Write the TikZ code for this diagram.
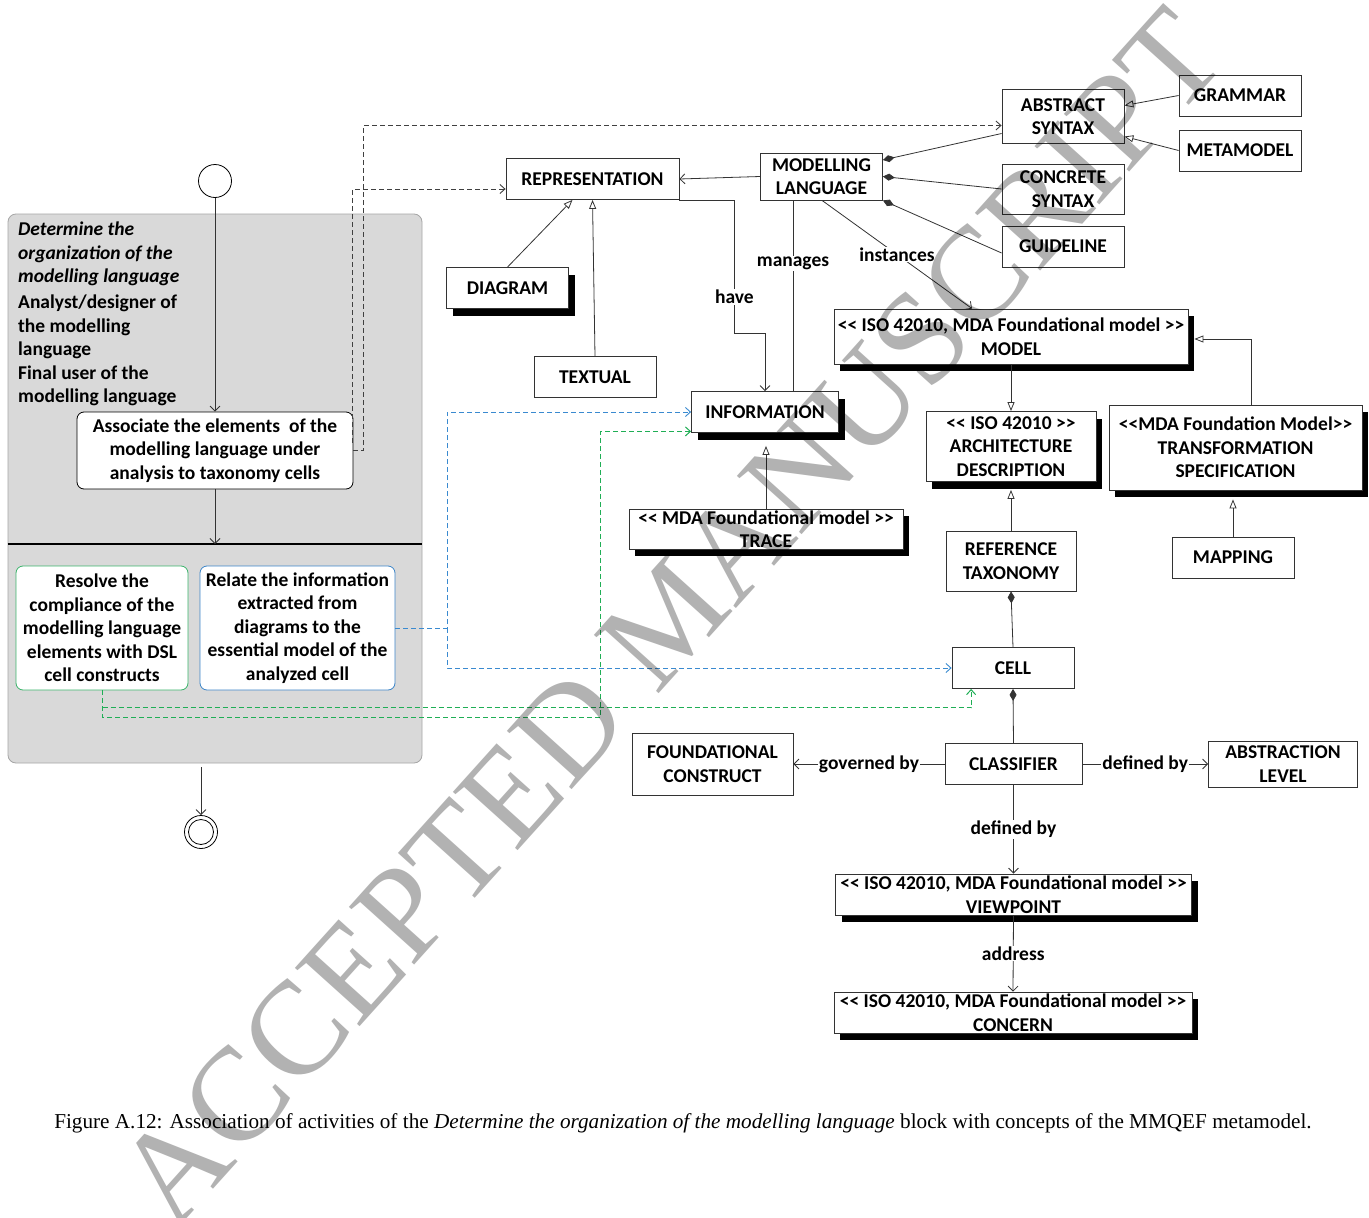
\documentclass[tikz,border=0pt]{standalone}
\usepackage{fontspec}
\setmainfont{Carlito}
\newfontfamily\capfont{Liberation Serif}
\usetikzlibrary{arrows.meta,calc,shadows}

\definecolor{lanegray}{HTML}{D9D9D9}
\definecolor{laneedge}{HTML}{A6A6A6}
\definecolor{actgreen}{HTML}{3BB36B}
\definecolor{actblue}{HTML}{3C85C8}
\definecolor{depgreen}{HTML}{1FAE55}
\definecolor{depblue}{HTML}{3A8AD0}
\newcommand\stl{<\kern0pt<}
\newcommand\str{>\kern0pt>}

\begin{document}
\begin{tikzpicture}[x=1pt,y=-1pt,
  every node/.style={font=\fontsize{19.5}{23.5}\selectfont\bfseries},
  cls/.style={draw=black!80, fill=white, line width=0.8pt, align=center, inner sep=0pt},
  shd/.style={cls, drop shadow={shadow xshift=6pt, shadow yshift=-7pt, fill=black, opacity=1}},
  act/.style={draw=black, fill=white, rounded corners=7pt, line width=0.8pt, align=center, inner sep=0pt},
  lbl/.style={fill=white, inner sep=1pt},
  conn/.style={draw=black!80, line width=0.8pt},
  navi/.style={conn, -{Straight Barb[length=5pt,width=10pt]}},
  gen/.style={conn, -{Triangle[open,length=9pt,width=7pt]}},
  comp/.style={conn, {Diamond[length=12pt,width=7pt]}-},
  dep/.style={draw=black!75, line width=0.9pt, dash pattern=on 5pt off 3pt, -{Straight Barb[length=5pt,width=9pt]}},
  bluedep/.style={dep, draw=depblue},
  greendep/.style={dep, draw=depgreen, line width=1pt},
]
\useasboundingbox[fill=white] (0,0) rectangle (1369,1218);

% ---------- activity lane ----------
\node[draw=laneedge, fill=lanegray, rounded corners=8pt, line width=0.8pt,
      minimum width=414pt, minimum height=549pt, inner sep=0pt] (lane) at (215,488.5) {};
\draw[line width=1.2pt] (lane.west |- 0,544) -- (lane.east |- 0,544);
\node[anchor=north west, align=left, inner sep=0pt] (lanetitle) at (18,222)
  {\textit{Determine the}\\\textit{organization of the}\\\textit{modelling language}\\[2.5pt]
   Analyst/designer of\\the modelling\\language\\Final user of the\\modelling language};

\node[circle, draw, fill=white, line width=0.8pt, minimum size=33pt, inner sep=0pt] (start) at (215,181) {};
\node[act, minimum width=276pt, minimum height=77pt] (assoc) at (215,450.5)
  {Associate the elements\ \ of the\\modelling language under\\analysis to taxonomy cells};
\node[act, draw=actgreen, minimum width=172pt, minimum height=124pt] (resolve) at (102,628)
  {Resolve the\\compliance of the\\modelling language\\elements with DSL\\cell constructs};
\node[act, draw=actblue, minimum width=195pt, minimum height=124pt] (relate) at (297.5,628)
  {Relate the information\\extracted from\\diagrams to the\\essential model of the\\analyzed cell};
\node[circle, draw, fill=white, line width=0.8pt, minimum size=33pt, inner sep=0pt] (final) at (201,832) {};
\draw[line width=0.8pt] (final.center) circle (12.5pt);

\coordinate (divpt) at (215,544);
\coordinate (lanebot) at (201,767);
\draw[navi] (start) -- (assoc);
\draw[navi] (assoc) -- (divpt);
\draw[navi] (lanebot) -- (final);

% ---------- metamodel classes ----------
\node[cls, minimum width=173pt, minimum height=41pt] (rep) at (592.5,179) {REPRESENTATION};
\node[cls, minimum width=122pt, minimum height=47pt] (ml) at (821.5,176.5) {MODELLING\\LANGUAGE};
\node[cls, minimum width=122pt, minimum height=54pt] (abs) at (1063,116.5) {ABSTRACT\\SYNTAX};
\node[cls, minimum width=122pt, minimum height=41pt] (gram) at (1240,95.5) {GRAMMAR};
\node[cls, minimum width=122pt, minimum height=41pt] (meta) at (1240,150.5) {METAMODEL};
\node[cls, minimum width=122pt, minimum height=50pt] (conc) at (1063,189) {CONCRETE\\SYNTAX};
\node[cls, minimum width=122pt, minimum height=41pt] (guide) at (1063,246.5) {GUIDELINE};
\node[shd, minimum width=122pt, minimum height=41pt] (diag) at (507.5,288) {DIAGRAM};
\node[cls, minimum width=122pt, minimum height=41pt] (textual) at (595,377) {TEXTUAL};
\node[shd, minimum width=147pt, minimum height=41pt] (info) at (765,412) {INFORMATION};
\node[shd, minimum width=274pt, minimum height=40pt] (trace) at (766,529) {\stl{} MDA Foundational model \str\\TRACE};
\node[shd, minimum width=354pt, minimum height=55pt] (model) at (1011,336.5) {\stl{} ISO 42010, MDA Foundational model \str\\MODEL};
\node[shd, minimum width=170pt, minimum height=70pt] (arch) at (1011,446.5) {\stl{} ISO 42010 \str\\ARCHITECTURE\\DESCRIPTION};
\node[shd, minimum width=253pt, minimum height=85pt] (trans) at (1235.5,447.5) {\stl MDA Foundation Model\str\\TRANSFORMATION\\SPECIFICATION};
\node[cls, minimum width=130pt, minimum height=60pt] (reft) at (1011,561) {REFERENCE\\TAXONOMY};
\node[cls, minimum width=122pt, minimum height=41pt] (mapping) at (1233,557.5) {MAPPING};
\node[cls, minimum width=122pt, minimum height=41pt] (cell) at (1013,668) {CELL};
\node[cls, minimum width=137pt, minimum height=41pt] (classifier) at (1013.5,764) {CLASSIFIER};
\node[cls, minimum width=161pt, minimum height=62pt] (found) at (712.5,764) {FOUNDATIONAL\\CONSTRUCT};
\node[cls, minimum width=149pt, minimum height=46pt] (absl) at (1283,764) {ABSTRACTION\\LEVEL};
\node[shd, minimum width=356pt, minimum height=41pt] (view) at (1013.5,894.5) {\stl{} ISO 42010, MDA Foundational model \str\\VIEWPOINT};
\node[shd, minimum width=358pt, minimum height=41pt] (concern) at (1013,1012.5) {\stl{} ISO 42010, MDA Foundational model \str\\CONCERN};

% ---------- class relations ----------
\draw[navi] (ml.west) -- (rep.east);
\draw[gen] (diag.north) -- ($(rep.south)+(-20,0)$);
\draw[gen] (textual.north) -- (rep.south);
\draw[navi] (rep.south east) -- ++(55,0) -- node[lbl,pos=0.73]{have} ++(0,133) -| (info.north);
\draw[conn] ($(ml.south)+(-28.5,0)$) -- node[lbl,pos=0.33]{manages} ($(info.north)+(28,0)$);
\draw[navi] ($(ml.south)+(0.5,0)$) -- node[lbl,pos=0.5]{instances} ($(model.north)+(-39,0)$);
\draw[comp] ($(ml.east)+(0,-16.5)$) -- ($(abs.west)+(0,17)$);
\draw[comp] (ml.east) -- (conc.west);
\draw[comp] (ml.south east) -- ($(guide.west)+(0,6.5)$);
\draw[gen] (gram.west) -- ($(abs.east)+(0,-11)$);
\draw[gen] (meta.west) -- ($(abs.east)+(0,20)$);
\draw[gen] (model.south) -- (arch.north);
\draw[gen] ($(trans.north)+(15.5,0)$) |- ($(model.east)+(6,2.5)$);
\draw[gen] (reft.north) -- ($(arch.south)+(0,8)$);
\draw[gen] (mapping.north) -- ($(trans.south)+(-2.5,9)$);
\draw[gen] (trace.north) -- ($(info.south)+(1,13)$);
\draw[comp] (reft.south) -- (cell.north);
\draw[comp] (cell.south) -- (classifier.north);
\draw[navi] (classifier.west) -- node[lbl]{governed by} (found.east);
\draw[navi] (classifier.east) -- node[lbl]{defined by} (absl.west);
\draw[navi] (classifier.south) -- node[lbl]{defined by} (view.north);
\draw[navi] (view.south) -- node[lbl]{address} (concern.north);

% ---------- traces from activities to concepts ----------
\draw[dep] (assoc.east) -- ++(10,0) |- ($(abs.west)+(0,9)$);
\draw[dep] ($(assoc.east)+(-0.5,-8)$) |- ($(rep.west)+(0,10)$);
\draw[bluedep] (relate.east) -- ++(52,0) coordinate (bj) |- (info.west);
\draw[bluedep] (bj) |- (cell.west);
\coordinate (gj) at (600.5,717.5);
\draw[greendep] ($(resolve.south)+(0.5,0)$) |- (gj) |- ($(info.south west)+(0,-1.5)$);
\draw[greendep] ($(resolve.south)+(0.5,17.5)$) -| ($(cell.south west)+(19.5,0)$);

% ---------- caption ----------
\node[font=\capfont\mdseries\fontsize{21.2}{24}\selectfont, inner sep=0pt] (caption) at (683,1123)
  {Figure A.12: Association of activities of the \textit{Determine the organization of the modelling language} block with concepts of the MMQEF metamodel.};

% ---------- watermark ----------
\begin{scope}[blend mode=multiply]
\node[font=\capfont\mdseries\fontsize{133}{133}\selectfont, text=black!30, rotate=48, inner sep=0pt] (wm) at (670,617) {ACCEPTED MANUSCRIPT};
\end{scope}
\end{tikzpicture}
\end{document}
